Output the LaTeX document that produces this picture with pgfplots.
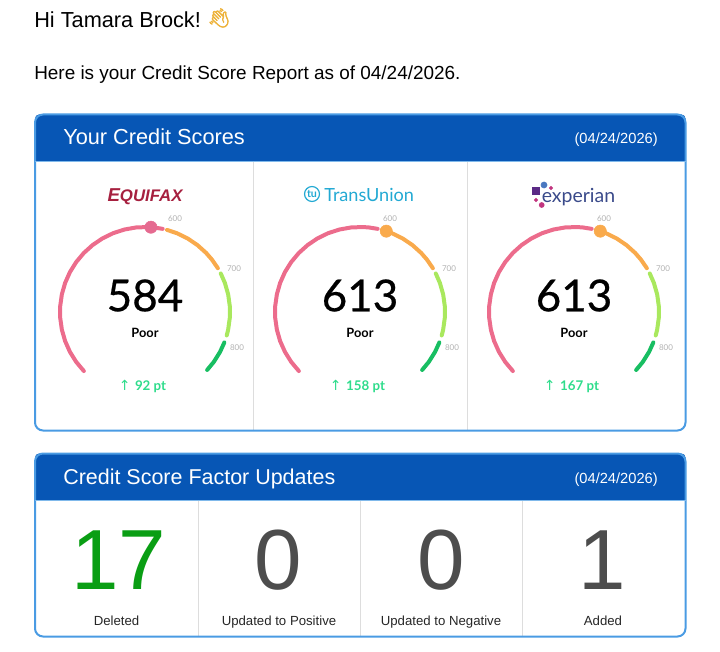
\documentclass[border=0pt]{standalone}
\usepackage{pgfplots}
\usepackage{pgfplotstable}
\pgfplotsset{compat=1.18}
\usepackage{fontspec}
\setmainfont{Liberation Sans}
\newfontfamily\lato{Lato}
\newfontfamily\latoh[FakeBold=0.5]{Lato}
\newfontfamily\emoji[FakeBold=3]{Noto Emoji}
\newfontfamily\dejavu{DejaVu Sans}
\definecolor{headblue}{HTML}{0756B5}
\definecolor{cardblue}{HTML}{4A9BE3}
\definecolor{divgrey}{HTML}{DDDDDD}
\definecolor{gred}{HTML}{EC6C8C}
\definecolor{gredm}{HTML}{E56A90}
\definecolor{gorange}{HTML}{F9AA4C}
\definecolor{glight}{HTML}{A9E85E}
\definecolor{gdark}{HTML}{18BE62}
\definecolor{deltagreen}{HTML}{2FDC8C}
\definecolor{bigdark}{HTML}{4D4D4D}
\definecolor{biggreen}{HTML}{0A9E14}
\definecolor{eqred}{HTML}{A6203F}
\definecolor{tublue}{HTML}{22A9D3}
\definecolor{exnavy}{HTML}{3A4A8A}
\definecolor{expurple}{HTML}{5B2A86}
\definecolor{exblue}{HTML}{4A78C0}
\definecolor{exmag}{HTML}{C1357F}
\definecolor{wave}{HTML}{EDB23A}
\newcommand\fs[1]{\fontsize{#1}{#1}\selectfont}
% arcs as (angle, radius)
\pgfplotstableread{
a r
224 85
216 85
208 85
200 85
192 85
184 85
176 85
168 85
160 85
152 85
144 85
136 85
128 85
120 85
112 85
104 85
96 85
88 85
84 85
78 85
}\arcred
\pgfplotstableread{
a r
75 85
68 85
60 85
52 85
44 85
38 85
31 85
}\arcorange
\pgfplotstableread{
a r
27 85
20 85
12 85
4 85
-4 85
-12 85
-16 85
}\arclight
\pgfplotstableread{
a r
-21 85
-28 85
-36 85
-43 85
}\arcdark
\pgfplotsset{gaugeaxis/.style={hide axis,scale only axis,width=150pt,height=150pt,
  xmin=-100,xmax=100,ymin=-100,ymax=100,clip=false,anchor=south west},
  arc/.style={line width=3pt,line cap=round,no markers,data cs=polar}}
% #1 xshift, #2 marker angle, #3 marker colour, #4 score, #5 delta
\newcommand\gauge[5]{%
\begin{axis}[gaugeaxis,at={(#1,180pt)}]
\addplot[arc,gred] table[x=a,y=r]{\arcred};
\addplot[arc,gorange] table[x=a,y=r]{\arcorange};
\addplot[arc,glight] table[x=a,y=r]{\arclight};
\addplot[arc,gdark] table[x=a,y=r]{\arcdark};
\addplot[only marks,mark=*,mark size=4.6pt,mark options={fill=#3,draw=#3},data cs=polar] coordinates {(#2,85)};
\node[font=\lato\fs{6},text=black!30] at (axis cs:30,93) {600};
\node[font=\lato\fs{6},text=black!30] at (axis cs:89,43) {700};
\node[font=\lato\fs{6},text=black!30] at (axis cs:92,-36) {800};
\node[font=\latoh\fs{33}] at (axis cs:0,16.5) {#4};
\node[font=\lato\bfseries\fs{9.6}] at (axis cs:0,-21) {Poor};
\node[font=\lato\bfseries\fs{10},text=deltagreen,anchor=base] at (axis cs:-2.5,-79) {{\dejavu\mdseries\fs{10.5}↑}\,\,#5 pt};
\end{axis}}
\begin{document}
\begin{tikzpicture}[every node/.style={inner sep=0pt}]
\useasboundingbox (0,0) rectangle (540pt,489pt);
\begin{axis}[at={(0,0)},anchor=south west,scale only axis,width=540pt,height=489pt,
  xmin=0,xmax=720,ymin=0,ymax=652,y dir=reverse,hide axis,clip=false]
% greeting
\node[anchor=base west,font=\fs{16.3}] at (axis cs:34,28) {Hi Tamara Brock!};
\node[font=\emoji\fs{14},text=wave] at (axis cs:219,18) {👋};
\node[anchor=base west,font=\fs{14.2}] at (axis cs:34,80) {Here is your Credit Score Report as of 04/24/2026.};
% card 1
\fill[headblue] (35,161.5) [rounded corners=3pt] -- (35,114.5) -- (685.5,114.5) [sharp corners] -- (685.5,161.5) -- cycle;
\draw[divgrey,line width=0.7pt] (253,162) -- (253,430);
\draw[divgrey,line width=0.7pt] (467,162) -- (467,430);
\draw[cardblue,line width=1.5pt,rounded corners=6pt] (35,114.5) rectangle (685.5,430.5);
\draw[cardblue!70,line width=0.9pt] (35,161.5) -- (685.5,161.5);
\node[anchor=base west,text=white,font=\fs{16.3}] at (axis cs:63,145) {Your Credit Scores};
\node[anchor=base east,text=white,font=\fs{11}] at (axis cs:658,144) {(04/24/2026)};
% card 2
\fill[headblue] (35,500.5) [rounded corners=3pt] -- (35,453.5) -- (685.5,453.5) [sharp corners] -- (685.5,500.5) -- cycle;
\draw[divgrey,line width=0.7pt] (198,501) -- (198,636);
\draw[divgrey,line width=0.7pt] (360,501) -- (360,636);
\draw[divgrey,line width=0.7pt] (522,501) -- (522,636);
\draw[cardblue,line width=1.5pt,rounded corners=6pt] (35,453.5) rectangle (685.5,636.5);
\draw[cardblue!70,line width=0.9pt] (35,500.5) -- (685.5,500.5);
\node[anchor=base west,text=white,font=\fs{16.1}] at (axis cs:63,484) {Credit Score Factor Updates};
\node[anchor=base east,text=white,font=\fs{11}] at (axis cs:658,483) {(04/24/2026)};
\node[text=biggreen,font=\fs{64}] at (axis cs:119,560) {17};
\node[text=bigdark,font=\fs{64}] at (axis cs:278.5,560) {0};
\node[text=bigdark,font=\fs{64}] at (axis cs:441,560) {0};
\node[text=bigdark,font=\fs{64}] at (axis cs:602,560) {1};
\node[anchor=base,font=\fs{9.9},text=black!85] at (axis cs:116.5,625) {Deleted};
\node[anchor=base,font=\fs{9.9},text=black!85] at (axis cs:279,625) {Updated to Positive};
\node[anchor=base,font=\fs{9.9},text=black!85] at (axis cs:441,625) {Updated to Negative};
\node[anchor=base,font=\fs{9.9},text=black!85] at (axis cs:603,625) {Added};
% logos
\node[text=eqred,anchor=base,font=\bfseries\itshape\fs{14}] at (axis cs:145,202) {E\fs{12.6}QUIFAX};
\addplot[only marks,mark=o,mark size=5.6pt,mark options={draw=tublue,line width=0.9pt}] coordinates {(312,194)};
\node[text=tublue,font=\lato\bfseries\fs{8}] at (axis cs:312,194) {tu};
\node[text=tublue,font=\lato\fs{13.6},anchor=west] at (axis cs:324,195) {TransUnion};
\addplot[only marks,mark=square*,mark size=2.6pt,mark options={draw=expurple,fill=expurple}] coordinates {(536,191)};
\addplot[only marks,mark=*,mark size=2.3pt,mark options={draw=exblue,fill=exblue}] coordinates {(544,185)};
\addplot[only marks,mark=*,mark size=1.3pt,mark options={draw=exmag,fill=exmag}] coordinates {(551,188) (536,200)};
\addplot[only marks,mark=*,mark size=1.9pt,mark options={draw=exmag,fill=exmag}] coordinates {(541.7,205)};
\node[text=exnavy,font=\lato\fs{14.6},anchor=west] at (axis cs:541.5,197) {experian};
\end{axis}
\gauge{33.75pt}{86}{gredm}{584}{92}
\gauge{195pt}{72}{gorange}{613}{158}
\gauge{355.5pt}{72}{gorange}{613}{167}
\end{tikzpicture}
\end{document}
